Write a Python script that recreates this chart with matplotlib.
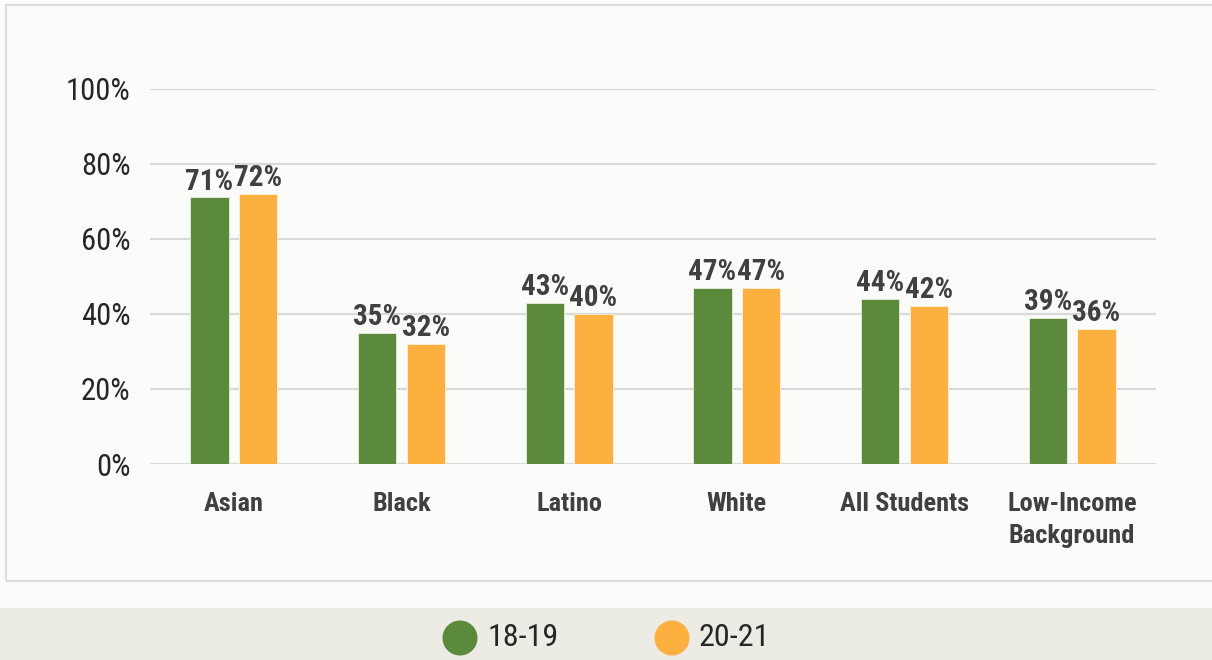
import matplotlib
matplotlib.use('Agg')
import matplotlib.pyplot as plt
from matplotlib import font_manager
from matplotlib.patches import Rectangle, Ellipse


def pick_font(bold):
    # look for a narrow/condensed face, the chart uses a condensed grotesque
    cands = []
    for f in font_manager.fontManager.ttflist:
        fn = f.fname.lower()
        isbold = (f.weight in ('bold', 700, '700')) or 'bold' in fn
        if isbold != bold or 'italic' in fn or 'oblique' in fn:
            continue
        if 'narrow' in fn or 'condensed' in fn or 'narrow' in f.name.lower():
            rank = 0 if 'liberation' in fn else (1 if 'roboto' in fn else 2)
            cands.append((rank, f.fname))
    if cands:
        cands.sort()
        return font_manager.FontProperties(fname=cands[0][1]), True
    return font_manager.FontProperties(family='Liberation Sans', weight='bold' if bold else 'normal'), False


fp_reg, ok_reg = pick_font(False)
fp_bold, ok_bold = pick_font(True)

categories = ['Asian', 'Black', 'Latino', 'White', 'All Students', 'Low-Income\nBackground']
series_names = ['18-19', '20-21']
vals_1819 = [71, 35, 43, 47, 44, 39]
vals_2021 = [72, 32, 40, 47, 42, 36]
yticks = [0, 20, 40, 60, 80, 100]

green = '#5b8a3c'
orange = '#fbb040'
bg = '#fbfbf9'

W, H = 1212, 660
fig = plt.figure(figsize=(W / 100, H / 100), dpi=100)
fig.patch.set_facecolor(bg)

# outer frame and legend band
fig.patches.append(Rectangle((6 / W, 1 - 581 / H), 1.0, (581 - 5) / H, transform=fig.transFigure,
                             facecolor='none', edgecolor='#dcdcdc', linewidth=1.5))
fig.patches.append(Rectangle((0, 0), 1, (H - 608) / H, transform=fig.transFigure,
                             facecolor='#ecebe4', edgecolor='none'))

ax = fig.add_axes([150 / W, 1 - 464 / H, 1006 / W, (464 - 88.5) / H])
ax.set_facecolor('none')
x = list(range(len(categories)))
w = 0.23
off = 0.145
b1 = ax.bar([i - off for i in x], vals_1819, w, color=green, edgecolor='#e8eee0', linewidth=0.6, zorder=3)
b2 = ax.bar([i + off for i in x], vals_2021, w, color=orange, edgecolor='#fdf0d8', linewidth=0.6, zorder=3)

lab_size = 21 if ok_bold else 17
for bars, vals in [(b1, vals_1819), (b2, vals_2021)]:
    for r, v in zip(bars, vals):
        ax.text(r.get_x() + r.get_width() / 2, v + 0.5, str(v) + '%', ha='center', va='bottom',
                fontproperties=fp_bold, fontsize=lab_size, color='#404040', zorder=4)

ax.set_xlim(-0.5, 5.5)
ax.set_ylim(0, 100)
ax.set_yticks(yticks)
ax.set_yticklabels([str(t) + '%' for t in yticks], fontproperties=fp_reg,
                   fontsize=22 if ok_reg else 19, color='#262626')
ax.set_xticks(x)
ax.set_xticklabels(categories, fontproperties=fp_bold, fontsize=19 if ok_bold else 16,
                   color='#404040', linespacing=1.45, va='top')
ax.tick_params(axis='y', length=0, pad=14)
ax.tick_params(axis='x', length=0, pad=20)
for s in ax.spines.values():
    s.set_visible(False)
ax.grid(axis='y', color='#d9d9d9', linewidth=1.6, zorder=0)
ax.set_axisbelow(True)

# legend
for cx, tx, col, lab in [(460, 487, green, series_names[0]), (672, 699, orange, series_names[1])]:
    fig.patches.append(Ellipse((cx / W, 1 - 638 / H), 35 / W, 35 / H, transform=fig.transFigure,
                               facecolor=col, edgecolor='none'))
    fig.text(tx / W, 1 - 638 / H, lab, fontproperties=fp_reg, fontsize=23 if ok_reg else 20,
             color='#262626', va='center', ha='left')

fig.savefig('out.png', dpi=100, facecolor=bg)
